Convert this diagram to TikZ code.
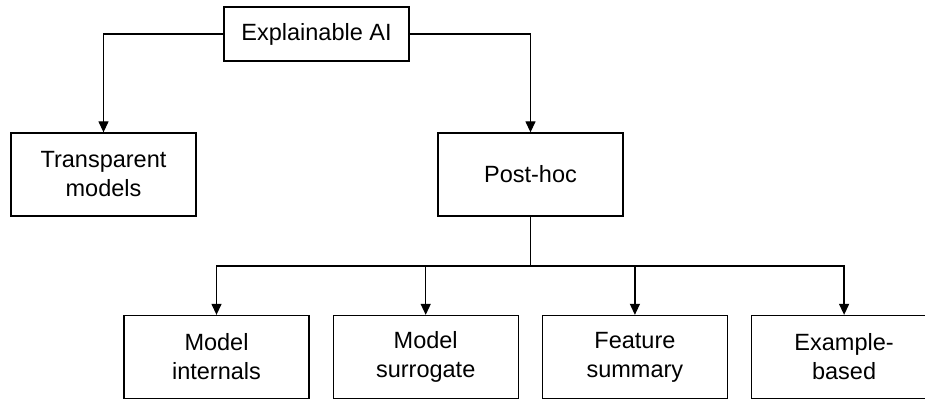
\documentclass[tikz,border=0pt]{standalone}
\usepackage{fontspec}
\setmainfont{Liberation Sans}
\usetikzlibrary{arrows.meta}

\begin{document}
\begin{tikzpicture}[x=0.5pt,y=0.5pt,->,>={Triangle[length=5.5pt,width=5pt]},node distance=104.6pt,line width=0.65pt]
\tikzstyle{box}=[rectangle,draw=black,text=black,align=center,minimum width=92.5pt,minimum height=41.5pt,font=\fontsize{11.75}{14.5}\selectfont]
\useasboundingbox (0,0) rectangle (925,400);
\node[box, minimum height=27pt] (xai) at (316.5,366) {Explainable AI};
\node[box] (transp)  at (103.5,225.5) {Transparent\\models};
\node[box] (posthoc) at (530.5,225.5) {Post-hoc};
\node[box] (internals) at (216.5,43)     {Model\\internals};
\node[box] (surrogate) [right of=internals] {Model\\surrogate};
\node[box] (feature)   [right of=surrogate] {Feature\\summary};
\node[box] (example)   [right of=feature]   {Example-\\based};
\coordinate (bus) at (530.5,134);
\draw (xai.west) -| (transp.north);
\draw (xai.east) -| (posthoc.north);
\draw[-] (posthoc.south) -- (bus);
\draw (bus) -| (internals.north);
\draw (bus) -| (surrogate.north);
\draw (bus) -| (feature.north);
\draw (bus) -| (example.north);
\end{tikzpicture}
\end{document}
